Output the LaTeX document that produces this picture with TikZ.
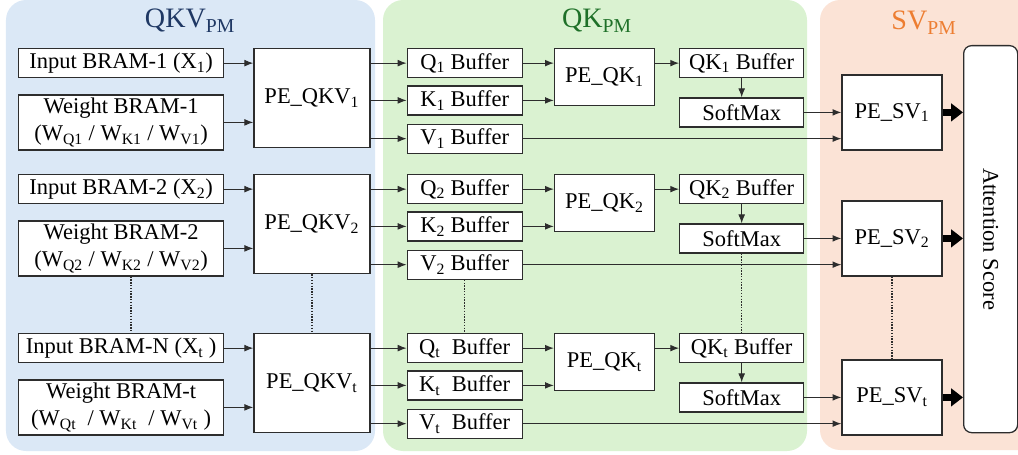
\documentclass[tikz,border=0pt]{standalone}
\usepackage{fontspec}
\setmainfont{Liberation Serif}
\usetikzlibrary{arrows.meta,positioning,calc}
\definecolor{qkvfondo}{RGB}{219,232,246}
\definecolor{qkfondo}{RGB}{218,242,209}
\definecolor{svfondo}{RGB}{251,227,214}
\definecolor{qkvtit}{RGB}{31,56,100}
\definecolor{qktit}{RGB}{30,112,40}
\definecolor{svtit}{RGB}{237,125,49}
\definecolor{borde}{RGB}{45,45,45}
\tikzset{
  caja/.style={rectangle,draw=borde,line width=0.9pt,fill=white,align=center,
    inner sep=1pt,font=\fontsize{16}{19}\selectfont,minimum height=0.725cm},
  cajain/.style={caja,minimum width=5.125cm},
  cajaw/.style={caja,minimum width=5.125cm,minimum height=1.375cm},
  buf/.style={caja,minimum width=2.875cm},
  qkbuf/.style={caja,minimum width=3.1cm},
  peqkv/.style={caja,minimum width=2.9cm,minimum height=2.475cm},
  peqk/.style={caja,minimum width=2.5cm,minimum height=1.425cm},
  pesv/.style={caja,minimum width=2.5cm,minimum height=1.875cm},
  flecha/.style={-{Latex[length=2.2mm,width=1.7mm]},borde,line width=0.7pt},
  flechag/.style={-{Triangle[length=3mm,width=4.4mm]},black,line width=5.5pt},
  puntos/.style={densely dotted,borde,line width=1pt},
  panel/.style={rounded corners=0.5cm},
  titulo/.style={anchor=base,font=\fontsize{20}{24}\selectfont},
}

\begin{document}
\begin{tikzpicture}
  \useasboundingbox (0,0) rectangle (25.45,-11.375);
  % fondos
  \begin{scope}
    \clip (0,0) rectangle (25.45,-11.375);
    \fill[qkvfondo,panel] (0.15,0) rectangle (9.375,-11.275);
    \fill[qkfondo,panel] (9.575,0) rectangle (20.175,-11.275);
    \fill[svfondo,panel] (20.5,0) rectangle (26,-11.25);
  \end{scope}
  \node[titulo,text=qkvtit] (tqkv) at (4.75,-0.7) {QKV\textsubscript{PM}};
  \node[titulo,text=qktit] (tqk) at (14.925,-0.7) {QK\textsubscript{PM}};
  \node[titulo,text=svtit] (tsv) at (23.1,-0.75) {SV\textsubscript{PM}};

  % fila 1
  \node[cajain,anchor=north west] (in1) at (0.45,-1.2) {Input BRAM-1 (X\textsubscript{1})};
  \node[cajaw,below=0.4cm of in1] (wt1) {Weight BRAM-1\\(W\textsubscript{Q1} / W\textsubscript{K1} / W\textsubscript{V1})};
  \node[peqkv,right=0.725cm of in1.north east,anchor=north west] (qkv1) {PE\_QKV\textsubscript{1}};
  \node[buf,right=0.9cm of qkv1.north east,anchor=north west] (q1) {Q\textsubscript{1} Buffer};
  \node[buf,below=0.175cm of q1] (k1) {K\textsubscript{1} Buffer};
  \node[buf,below=0.2cm of k1] (v1) {V\textsubscript{1} Buffer};
  \node[peqk,right=0.775cm of q1.north east,anchor=north west] (qk1) {PE\_QK\textsubscript{1}};
  \node[qkbuf,right=0.6cm of qk1.north east,anchor=north west] (qkb1) {QK\textsubscript{1} Buffer};
  \node[qkbuf,below=0.475cm of qkb1] (sm1) {SoftMax};
  \node[pesv,right=0.925cm of sm1] (sv1) {PE\_SV\textsubscript{1}};

  % fila 2
  \node[cajain,anchor=north west] (in2) at (0.45,-4.35) {Input BRAM-2 (X\textsubscript{2})};
  \node[cajaw,below=0.4cm of in2] (wt2) {Weight BRAM-2\\(W\textsubscript{Q2} / W\textsubscript{K2} / W\textsubscript{V2})};
  \node[peqkv,right=0.725cm of in2.north east,anchor=north west] (qkv2) {PE\_QKV\textsubscript{2}};
  \node[buf,right=0.9cm of qkv2.north east,anchor=north west] (q2) {Q\textsubscript{2} Buffer};
  \node[buf,below=0.175cm of q2] (k2) {K\textsubscript{2} Buffer};
  \node[buf,below=0.2cm of k2] (v2) {V\textsubscript{2} Buffer};
  \node[peqk,right=0.775cm of q2.north east,anchor=north west] (qk2) {PE\_QK\textsubscript{2}};
  \node[qkbuf,right=0.6cm of qk2.north east,anchor=north west] (qkb2) {QK\textsubscript{2} Buffer};
  \node[qkbuf,below=0.475cm of qkb2] (sm2) {SoftMax};
  \node[pesv,right=0.925cm of sm2] (sv2) {PE\_SV\textsubscript{2}};

  % fila t
  \node[cajain,anchor=north west] (inN) at (0.45,-8.325) {Input BRAM-N (X\textsubscript{t} )};
  \node[cajaw,below=0.4cm of inN] (wtt) {Weight BRAM-t\\(W\textsubscript{Qt} ~/ W\textsubscript{Kt} ~/ W\textsubscript{Vt} )};
  \node[peqkv,right=0.725cm of inN.north east,anchor=north west] (qkvt) {PE\_QKV\textsubscript{t}};
  \node[buf,right=0.9cm of qkvt.north east,anchor=north west] (qt) {Q\textsubscript{t} ~Buffer};
  \node[buf,below=0.175cm of qt] (kt) {K\textsubscript{t} ~Buffer};
  \node[buf,below=0.2cm of kt] (vt) {V\textsubscript{t} ~Buffer};
  \node[peqk,right=0.775cm of qt.north east,anchor=north west] (qkt) {PE\_QK\textsubscript{t}};
  \node[qkbuf,right=0.6cm of qkt.north east,anchor=north west] (qkbt) {QK\textsubscript{t} Buffer};
  \node[qkbuf,below=0.475cm of qkbt] (smt) {SoftMax};
  \node[pesv,right=0.925cm of smt] (svt) {PE\_SV\textsubscript{t}};

  \node[caja,rounded corners=0.2cm,minimum width=1.35cm,minimum height=9.675cm,anchor=north west] (att)
    at (24.075,-1.125) {\rotatebox{-90}{Attention Score}};

  % flechas fila 1
  \draw[flecha] (in1.east) -- (in1.east -| qkv1.west);
  \draw[flecha] (wt1.east) -- (wt1.east -| qkv1.west);
  \draw[flecha] (q1.west -| qkv1.east) -- (q1.west);
  \draw[flecha] (k1.west -| qkv1.east) -- (k1.west);
  \draw[flecha] (v1.west -| qkv1.east) -- (v1.west);
  \draw[flecha] (q1.east) -- (q1.east -| qk1.west);
  \draw[flecha] (k1.east) -- (k1.east -| qk1.west);
  \draw[flecha] (qkb1.west -| qk1.east) -- (qkb1.west);
  \draw[flecha] (qkb1) -- (sm1);
  \draw[flecha] (sm1.east) -- (sm1.east -| sv1.west);
  \draw[flecha] (v1.east) -- (v1.east -| sv1.west);
  \draw[flechag] (sv1.east) -- (sv1.east -| att.west);

  % flechas fila 2
  \draw[flecha] (in2.east) -- (in2.east -| qkv2.west);
  \draw[flecha] (wt2.east) -- (wt2.east -| qkv2.west);
  \draw[flecha] (q2.west -| qkv2.east) -- (q2.west);
  \draw[flecha] (k2.west -| qkv2.east) -- (k2.west);
  \draw[flecha] (v2.west -| qkv2.east) -- (v2.west);
  \draw[flecha] (q2.east) -- (q2.east -| qk2.west);
  \draw[flecha] (k2.east) -- (k2.east -| qk2.west);
  \draw[flecha] (qkb2.west -| qk2.east) -- (qkb2.west);
  \draw[flecha] (qkb2) -- (sm2);
  \draw[flecha] (sm2.east) -- (sm2.east -| sv2.west);
  \draw[flecha] (v2.east) -- (v2.east -| sv2.west);
  \draw[flechag] (sv2.east) -- (sv2.east -| att.west);

  % flechas fila t
  \draw[flecha] (inN.east) -- (inN.east -| qkvt.west);
  \draw[flecha] (wtt.east) -- (wtt.east -| qkvt.west);
  \draw[flecha] (qt.west -| qkvt.east) -- (qt.west);
  \draw[flecha] (kt.west -| qkvt.east) -- (kt.west);
  \draw[flecha] (vt.west -| qkvt.east) -- (vt.west);
  \draw[flecha] (qt.east) -- (qt.east -| qkt.west);
  \draw[flecha] (kt.east) -- (kt.east -| qkt.west);
  \draw[flecha] (qkbt.west -| qkt.east) -- (qkbt.west);
  \draw[flecha] (qkbt) -- (smt);
  \draw[flecha] (smt.east) -- (smt.east -| svt.west);
  \draw[flecha] (vt.east) -- (vt.east -| svt.west);
  \draw[flechag] (svt.east) -- (svt.east -| att.west);

  % puntos
  \draw[puntos] ([xshift=0.25cm]wt2.south) -- ([xshift=0.25cm]inN.north);
  \draw[puntos] (qkv2.south) -- (qkvt.north);
  \draw[puntos] (v2.south) -- (qt.north);
  \draw[puntos] (sm2.south) -- (qkbt.north);
  \draw[puntos] (sv2.south) -- (svt.north);
\end{tikzpicture}
\end{document}
